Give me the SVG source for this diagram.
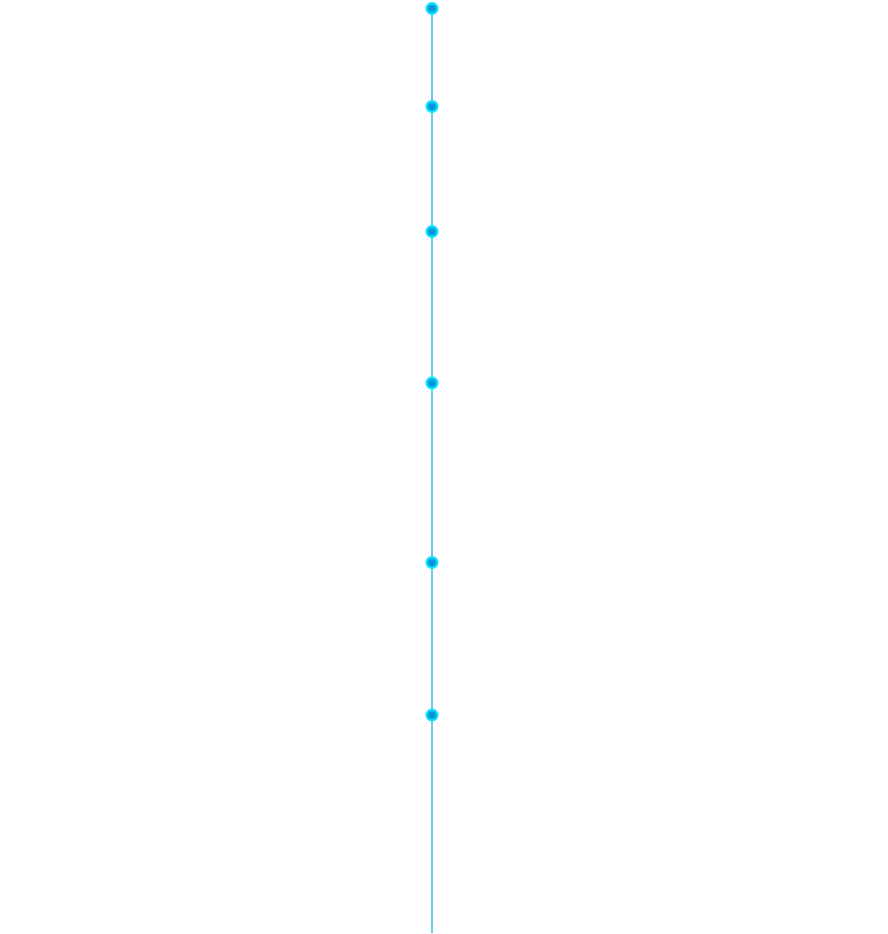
<svg xmlns="http://www.w3.org/2000/svg" width="888" height="934" viewBox="0 0 888 934">
<style>
.dot{fill:#0596d6;stroke:#00e5ff;stroke-width:2.5}
.line{stroke:#3bb8e6;stroke-width:1.5;fill:none}
</style>
<rect width="888" height="934" fill="#ffffff"/>
<g id="connectors">
<line class="line" x1="432" y1="8.5" x2="432" y2="933"/>
</g>
<g id="node1"><circle class="dot" cx="432" cy="8.5" r="5.25"/></g>
<g id="node2"><circle class="dot" cx="432" cy="106.5" r="5.25"/></g>
<g id="node3"><circle class="dot" cx="432" cy="231.5" r="5.25"/></g>
<g id="node4"><circle class="dot" cx="432" cy="383" r="5.25"/></g>
<g id="node5"><circle class="dot" cx="432" cy="562.5" r="5.25"/></g>
<g id="node6"><circle class="dot" cx="432" cy="715" r="5.25"/></g>
</svg>
